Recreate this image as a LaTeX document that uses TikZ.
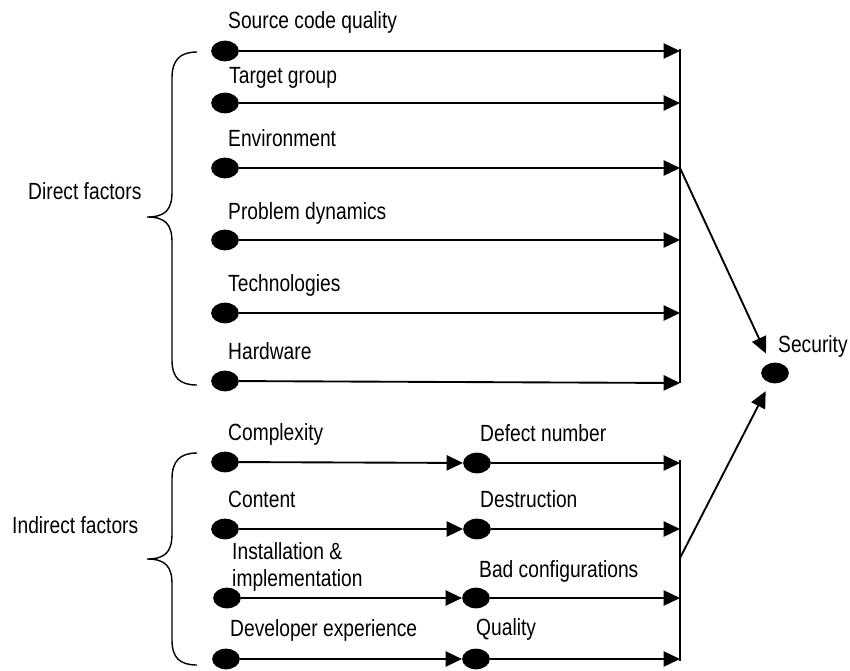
\documentclass[tikz,border=0pt]{standalone}
\usepackage{fontspec}
\setmainfont{Liberation Sans}[FakeStretch=0.82]
\usetikzlibrary{shapes.geometric,arrows.meta}

\begin{document}
\begin{tikzpicture}[x=0.03cm,y=-0.03cm,
  dot/.style={ellipse,fill=black,inner sep=0pt,minimum width=0.83cm,minimum height=0.62cm},
  lbl/.style={anchor=base west,inner sep=0pt,font=\fontsize{20}{23}\selectfont},
  arr/.style={-{Triangle[length=14pt,width=13pt]},line width=1.6pt},
  bar/.style={line width=1.2pt},
  brace/.style={line width=1.2pt}]
\useasboundingbox (0,0) rectangle (850,670);
% direct factors
\node[dot] (s1) at (225,51) {};
\node[dot] (s2) at (225,103) {};
\node[dot] (s3) at (225,168) {};
\node[dot] (s4) at (225,240) {};
\node[dot] (s5) at (225,313) {};
\node[dot] (s6) at (225,381) {};
\coordinate (e0) at (680,49);
\coordinate (e1) at (680,51);
\coordinate (e2) at (680,103);
\coordinate (e3) at (680,168);
\coordinate (e4) at (680,240);
\coordinate (e5) at (680,313);
\coordinate (e6) at (680,383);
\draw[bar] (e0) -- (e6);
\draw[arr] (s1) -- (e1);
\draw[arr] (s2) -- (e2);
\draw[arr] (s3) -- (e3);
\draw[arr] (s4) -- (e4);
\draw[arr] (s5) -- (e5);
\draw[arr] (s6) -- (e6);
\node[lbl] (t1) at (228,28) {Source code quality};
\node[lbl] (t2) at (229,83) {Target group};
\node[lbl] (t3) at (228,146) {Environment};
\node[lbl] (t4) at (228,219) {Problem dynamics};
\node[lbl] (t5) at (228,291) {Technologies};
\node[lbl] (t6) at (228,359) {Hardware};
% indirect factors
\node[dot] (i1) at (225,462) {};
\node[dot] (i2) at (225,529) {};
\node[dot] (i3) at (227,598) {};
\node[dot] (i4) at (226,659) {};
\node[dot] (m1) at (477,463) {};
\node[dot] (m2) at (477,529) {};
\node[dot] (m3) at (476,598) {};
\node[dot] (m4) at (476,659) {};
\coordinate (f0) at (680,460);
\coordinate (f1) at (680,463);
\coordinate (f2) at (680,529);
\coordinate (f3) at (680,598);
\coordinate (f4) at (680,659);
\coordinate (f5) at (680,661);
\coordinate (j) at (680,558);
\draw[bar] (f0) -- (f5);
\draw[arr] (i1) -- (m1);
\draw[arr] (i2) -- (m2);
\draw[arr] (i3) -- (m3);
\draw[arr] (i4) -- (m4);
\draw[arr] (m1) -- (f1);
\draw[arr] (m2) -- (f2);
\draw[arr] (m3) -- (f3);
\draw[arr] (m4) -- (f4);
\node[lbl] (c1) at (228,440) {Complexity};
\node[lbl] (c2) at (228,507) {Content};
\node[lbl,anchor=west,align=left] (c3) at (232,567) {Installation \&\\implementation};
\node[lbl] (c4) at (230,636) {Developer experience};
\node[lbl] (d1) at (480,441) {Defect number};
\node[lbl] (d2) at (480,507) {Destruction};
\node[lbl] (d3) at (479,577) {Bad configurations};
\node[lbl] (d4) at (476,635) {Quality};
% security
\node[dot] (sec) at (775,373) {};
\node[lbl] (st) at (778,352) {Security};
\draw[arr,shorten >=9pt] (e3) -- (sec);
\draw[arr,shorten >=8pt] (j) -- (sec);
% braces
\draw[brace] (197,52) .. controls (180,52) and (172,60) .. (172,78) -- (172,192)
  .. controls (172,210) and (165,217) .. (147,217)
  .. controls (165,217) and (172,224) .. (172,242) -- (172,360)
  .. controls (172,378) and (180,385) .. (197,385);
\node[lbl] (dir) at (28,199) {Direct factors};
\draw[brace] (197,453) .. controls (180,453) and (172,461) .. (172,479) -- (172,534)
  .. controls (172,552) and (165,559) .. (147,559)
  .. controls (165,559) and (172,566) .. (172,584) -- (172,640)
  .. controls (172,658) and (180,665) .. (197,665);
\node[lbl] (ind) at (12,533) {Indirect factors};
\end{tikzpicture}
\end{document}
